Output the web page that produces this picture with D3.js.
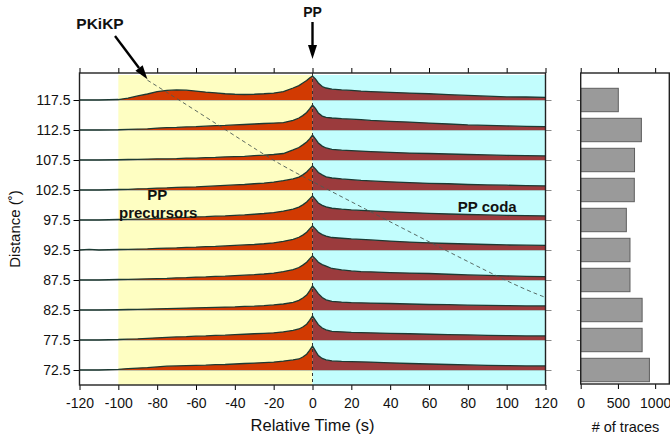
<!DOCTYPE html>
<html>
<head>
<meta charset="utf-8">
<script src="https://cdn.jsdelivr.net/npm/d3@7"></script>
<style>
  body { margin: 0; background: #fff; }
  svg { display: block; font-family: "Liberation Sans", Arial, sans-serif; }
  .tick text { font-size: 14px; fill: #111; }
</style>
</head>
<body>
<div id="chart"></div>
<script>
// distance bins (deg) and number of traces stacked in each
const distances = [117.5, 112.5, 107.5, 102.5, 97.5, 92.5, 87.5, 82.5, 77.5, 72.5];
const traceCounts = [505, 815, 723, 720, 613, 662, 662, 825, 825, 923];

// time samples (s, relative to PP) for the stacked envelopes
const timeSamples = [-120, -115, -110, -100, -95, -90, -85, -80, -75, -70, -65, -60, -55, -50, -45, -40,
  -35, -30, -25, -20, -15, -10, -7, -5, -3, -1.5, 0, 1.5, 3, 5, 7, 10, 15, 20, 25, 30,
  40, 50, 60, 70, 80, 90, 100, 110, 120];

// normalized envelope amplitude, one array per distance bin
const amp1175 = [0, 0, 0, .02, .08, .17, .25, .35, .40, .42, .41, .37, .33, .30, .26, .24, .23, .24, .26, .29, .35, .50, .60, .71, .81, .92,
  1.0, .88, .71, .56, .50, .45, .42, .40, .37, .35, .32, .29, .26, .22, .19, .16, .13, .125, .11];
const amp1125 = [0, 0, 0, .01, .03, .04, .05, .08, .10, .11, .13, .14, .16, .18, .19, .21, .23, .25, .27, .29, .31, .40, .50, .60, .73, .88,
  1.04, .90, .71, .58, .53, .50, .47, .45, .43, .40, .36, .33, .29, .25, .21, .19, .17, .15, .14];
const amp1075 = [0, 0, 0, .01, .02, .03, .04, .05, .05, .06, .08, .08, .10, .11, .13, .14, .15, .18, .20, .23, .27, .42, .52, .63, .75, .88,
  1.04, .88, .71, .58, .50, .44, .41, .39, .37, .35, .32, .29, .27, .25, .23, .21, .19, .18, .17];
const amp1025 = [0, 0, 0, .02, .03, .05, .06, .08, .09, .11, .12, .13, .15, .17, .19, .21, .23, .26, .29, .33, .39, .46, .54, .63, .75, .88,
  1.0, .88, .73, .63, .55, .50, .46, .43, .40, .38, .34, .31, .28, .26, .23, .21, .20, .18, .17];
const amp975 = [0, 0, 0, .02, .03, .04, .05, .07, .08, .10, .11, .13, .14, .16, .17, .19, .21, .24, .27, .31, .37, .45, .54, .63, .75, .88,
  1.0, .86, .71, .61, .55, .49, .45, .42, .40, .38, .34, .31, .28, .25, .23, .21, .19, .18, .17];
const amp925 = [0, .03, 0, .02, .03, .04, .05, .07, .08, .09, .11, .12, .14, .15, .17, .19, .21, .23, .26, .30, .36, .44, .53, .62, .74, .88,
  1.0, .88, .74, .64, .58, .52, .49, .46, .44, .42, .37, .33, .30, .27, .25, .23, .21, .20, .19];
const amp875 = [0, 0, 0, .02, .03, .04, .05, .06, .07, .09, .10, .12, .13, .15, .16, .18, .20, .22, .25, .29, .35, .43, .52, .62, .74, .88,
  1.0, .88, .74, .64, .58, .48, .42, .38, .35, .34, .31, .29, .27, .24, .21, .19, .17, .15, .14];
const amp825 = [0, 0, 0, .01, .02, .03, .04, .05, .06, .07, .08, .09, .10, .11, .12, .13, .15, .16, .18, .21, .25, .32, .40, .50, .62, .80,
  1.0, .85, .68, .52, .42, .36, .33, .31, .30, .29, .27, .25, .23, .22, .20, .19, .18, .17, .17];
const amp775 = [0, 0, 0, .02, .04, .05, .07, .09, .11, .13, .14, .16, .17, .19, .20, .22, .24, .26, .28, .30, .34, .40, .46, .54, .66, .82,
  1.0, .82, .64, .50, .42, .36, .34, .32, .31, .30, .28, .26, .24, .22, .21, .19, .18, .17, .17];
const amp725 = [0, 0, 0, .03, .06, .08, .10, .13, .16, .17, .18, .19, .20, .22, .23, .25, .27, .29, .31, .33, .37, .42, .46, .54, .66, .82,
  1.0, .80, .60, .48, .42, .38, .36, .35, .34, .33, .30, .27, .25, .23, .21, .19, .18, .17, .17];
const traceAmps = [amp1175, amp1125, amp1075, amp1025, amp975, amp925, amp875, amp825, amp775, amp725];

// PKiKP predicted arrival, picked off the figure
const pkikpTime = [-85, -60, -28.7, -6.4, 38.2, 94.8, 120];
const pkikpDist = [120.8, 115.7, 109.2, 105.0, 97.5, 88.2, 84.6];

const timeTicks = [-120, -100, -80, -60, -40, -20, 0, 20, 40, 60, 80, 100, 120];
const countTicks = [0, 500, 1000];

const width = 670, height = 439;
const plot = {left: 79.5, right: 545.5, top: 73, bottom: 385};
const hist = {left: 580.7, right: 669.3};

const svg = d3.select("#chart").append("svg")
    .attr("width", width)
    .attr("height", height);

const x = d3.scaleLinear().domain([-120, 120]).range([plot.left, plot.right]);
const y = d3.scaleLinear().domain([70, 122]).range([plot.bottom, plot.top]);
const ampScale = d3.scaleLinear().domain([0, 1]).range([0, 24]);
const hx = d3.scaleLinear().domain([0, 1190]).range([hist.left, hist.right]);

svg.append("defs").append("clipPath").attr("id", "plotclip")
  .append("rect")
    .attr("x", plot.left).attr("y", plot.top)
    .attr("width", plot.right - plot.left).attr("height", plot.bottom - plot.top);

let g = svg.append("g").attr("clip-path", "url(#plotclip)");

// shaded windows
g.append("rect")
    .attr("x", x(-100)).attr("y", plot.top + 2)
    .attr("width", x(0) - x(-100)).attr("height", plot.bottom - plot.top)
    .attr("fill", "#fefec2");
g.append("rect")
    .attr("x", x(0)).attr("y", plot.top + 2)
    .attr("width", x(120) - x(0)).attr("height", plot.bottom - plot.top)
    .attr("fill", "#c2fdfd");

// baselines
g.selectAll("line.base").data(distances).enter().append("line")
    .attr("class", "base")
    .attr("x1", plot.left).attr("x2", plot.right)
    .attr("y1", d => y(d)).attr("y2", d => y(d))
    .attr("stroke", "#8a8a8a").attr("stroke-width", 1);

// traces
distances.forEach(function (dist, i) {
    let pts = timeSamples.map((t, j) => ({t: t, a: traceAmps[i][j]}));
    let area = d3.area()
        .x(d => x(d.t))
        .y0(y(dist))
        .y1(d => y(dist) - ampScale(d.a));
    let line = d3.line()
        .x(d => x(d.t))
        .y(d => y(dist) - ampScale(d.a));

    g.append("path").datum(pts.filter(d => d.t >= -100 && d.t <= 0))
        .attr("d", area).attr("fill", "#d23a02");
    g.append("path").datum(pts.filter(d => d.t >= 0))
        .attr("d", area).attr("fill", "#9b3b3d");
    g.append("path").datum(pts)
        .attr("d", line)
        .attr("fill", "none")
        .attr("stroke", "#1c3a33")
        .attr("stroke-width", 1.3);
});

// PP time marker
g.append("line")
    .attr("x1", x(0)).attr("x2", x(0))
    .attr("y1", plot.top).attr("y2", plot.bottom)
    .attr("stroke", "#333").attr("stroke-width", 1)
    .attr("stroke-dasharray", "3,3");

// PKiKP curve
g.append("path")
    .datum(pkikpTime.map((t, j) => [t, pkikpDist[j]]))
    .attr("d", d3.line().x(d => x(d[0])).y(d => y(d[1])).curve(d3.curveNatural))
    .attr("fill", "none")
    .attr("stroke", "#4d5a55")
    .attr("stroke-width", 0.9)
    .attr("stroke-dasharray", "4,3");

// axes
const fmt = d => String(d);
svg.append("g").attr("transform", `translate(0,${plot.bottom})`)
    .call(d3.axisBottom(x).tickValues(timeTicks).tickFormat(fmt).tickSize(5).tickPadding(8));
svg.append("g").attr("transform", `translate(0,${plot.top})`)
    .call(d3.axisTop(x).tickValues(timeTicks).tickFormat("").tickSize(5));
svg.append("g").attr("transform", `translate(${plot.left},0)`)
    .call(d3.axisLeft(y).tickValues(distances).tickFormat(d3.format(".1f")).tickSize(6).tickPadding(3));
svg.append("g").attr("class", "rax").attr("transform", `translate(${plot.right},0)`)
    .call(d3.axisRight(y).tickValues(distances).tickFormat("").tickSize(6));
svg.selectAll(".domain").remove();
svg.selectAll(".rax line").attr("stroke", "#888");

svg.append("rect")
    .attr("x", plot.left).attr("y", plot.top)
    .attr("width", plot.right - plot.left).attr("height", plot.bottom - plot.top)
    .attr("fill", "none").attr("stroke", "#222").attr("stroke-width", 1.4);

// histogram of trace counts
svg.selectAll("rect.bar").data(distances).enter().append("rect")
    .attr("class", "bar")
    .attr("x", hist.left)
    .attr("y", d => y(d + 1.95))
    .attr("width", (d, i) => hx(traceCounts[i]) - hist.left)
    .attr("height", d => y(d - 1.95) - y(d + 1.95))
    .attr("fill", "#9a9a9a")
    .attr("stroke", "#5e5e5e")
    .attr("stroke-width", 1);

svg.append("g").attr("transform", `translate(0,${plot.bottom - 1})`)
    .call(d3.axisBottom(hx).tickValues(countTicks).tickFormat(fmt).tickSize(5).tickPadding(9));
svg.append("g").attr("transform", `translate(0,${plot.top})`)
    .call(d3.axisTop(hx).tickValues(countTicks).tickFormat("").tickSize(5));
svg.append("g").attr("class", "hax").attr("transform", `translate(${hist.left},0)`)
    .call(d3.axisLeft(y).tickValues(distances).tickFormat("").tickSize(4));
svg.selectAll(".domain").remove();
svg.selectAll(".hax line").attr("stroke", "#888");

svg.append("rect")
    .attr("x", hist.left).attr("y", plot.top)
    .attr("width", hist.right - hist.left).attr("height", plot.bottom - 1 - plot.top)
    .attr("fill", "none").attr("stroke", "#222").attr("stroke-width", 1.4);

// axis titles
svg.append("text")
    .attr("x", (plot.left + plot.right) / 2).attr("y", 431)
    .attr("text-anchor", "middle").attr("font-size", 16.5).attr("fill", "#111")
    .text("Relative Time (s)");
svg.append("text")
    .attr("transform", `translate(20,${(plot.top + plot.bottom) / 2}) rotate(-90)`)
    .attr("text-anchor", "middle").attr("font-size", 15).attr("fill", "#111")
    .text("Distance (˚)");
svg.append("text")
    .attr("x", 625.5).attr("y", 432)
    .attr("text-anchor", "middle").attr("font-size", 14.5).attr("fill", "#111")
    .text("# of traces");

// annotations
function arrow(x1, y1, x2, y2) {
    let ang = Math.atan2(y2 - y1, x2 - x1);
    let len = 14, half = 4.5;
    let bx = x2 - len * Math.cos(ang), by = y2 - len * Math.sin(ang);
    svg.append("line")
        .attr("x1", x1).attr("y1", y1).attr("x2", bx).attr("y2", by)
        .attr("stroke", "#000").attr("stroke-width", 2.4);
    svg.append("polygon")
        .attr("points", [
            [x2, y2],
            [bx + half * Math.sin(ang), by - half * Math.cos(ang)],
            [bx - half * Math.sin(ang), by + half * Math.cos(ang)]
        ].map(p => p.join(",")).join(" "))
        .attr("fill", "#000");
}
arrow(x(0), 22, x(0), plot.top - 14);
arrow(115, 36, x(pkikpTime[0]), y(pkikpDist[0]) - 1);

const bold = (tx, ty, s, size) => svg.append("text")
    .attr("x", tx).attr("y", ty)
    .attr("text-anchor", "middle").attr("font-weight", "bold")
    .attr("font-size", size).attr("fill", "#111").text(s);
bold(x(0), 17, "PP", 14);
bold(100, 29, "PKiKP", 15.5);
bold(x(-80), 200, "PP", 15);
bold(x(-80) + 1, 218, "precursors", 15);
bold(x(90), 211.5, "PP coda", 15);
</script>
</body>
</html>
